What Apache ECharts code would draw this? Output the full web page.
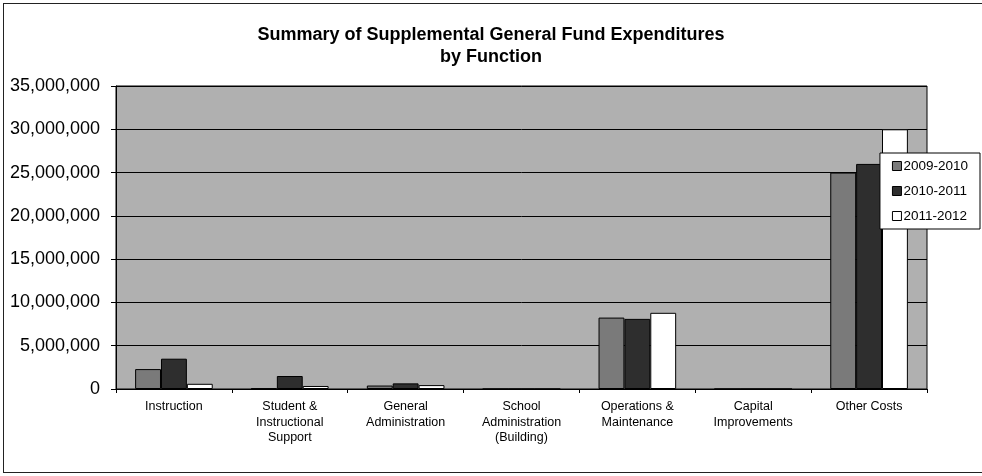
<!DOCTYPE html>
<html>
<head>
<meta charset="utf-8">
<script src="https://cdn.jsdelivr.net/npm/echarts@6/dist/echarts.min.js"></script>
<style>
  html, body { margin: 0; padding: 0; background: #fff; }
  #chart { width: 982px; height: 476px; }
  .frame { position: absolute; left: 3px; top: 3px; width: 985px; height: 470px; border: 1px solid #222; box-sizing: border-box; pointer-events: none; }
</style>
</head>
<body>
<div id="chart"></div>
<div class="frame"></div>
<script>
const categories = [
  'Instruction',
  'Student &\nInstructional\nSupport',
  'General\nAdministration',
  'School\nAdministration\n(Building)',
  'Operations &\nMaintenance',
  'Capital\nImprovements',
  'Other Costs'
]
const fy2009 = [2300000, 60000, 400000, 0, 8250000, 0, 25000000]
const fy2010 = [3500000, 1500000, 650000, 0, 8100000, 0, 26000000]
const fy2011 = [600000, 350000, 450000, 0, 8800000, 0, 30000000]
const seriesNames = ['2009-2010', '2010-2011', '2011-2012']
const seriesColors = ['#7a7a7a', '#2e2e2e', '#ffffff']

const chart = echarts.init(document.getElementById('chart'))

const fmt = (v) => v.toLocaleString('en-US')

const makeSeries = (name, data, color) => ({
  name,
  type: 'bar',
  data,
  barGap: '0%',
  barCategoryGap: '33%',
  itemStyle: { color, borderColor: '#000', borderWidth: 1 }
})

chart.setOption({
  animation: false,
  backgroundColor: '#fff',
  title: {
    text: 'Summary of Supplemental General Fund Expenditures\nby Function',
    left: 'center',
    top: 19,
    textStyle: { fontFamily: 'Liberation Sans', fontSize: 18, fontWeight: 'bold', color: '#000', lineHeight: 22 }
  },
  legend: {
    orient: 'vertical',
    right: 2,
    top: 153,
    padding: [6, 12, 6, 12],
    itemGap: 11,
    itemWidth: 9,
    itemHeight: 9,
    icon: 'rect',
    backgroundColor: '#fff',
    borderColor: '#000',
    borderWidth: 1,
    itemStyle: { borderColor: '#000', borderWidth: 1 },
    textStyle: { fontFamily: 'Liberation Sans', fontSize: 13.5, color: '#000', padding: [0, 0, 0, -3] },
    data: seriesNames
  },
  grid: {
    left: 116, right: 55, top: 86, bottom: 87,
    show: true,
    backgroundColor: '#b0b0b0',
    borderColor: '#000',
    borderWidth: 1
  },
  xAxis: {
    type: 'category',
    data: categories,
    axisLine: { lineStyle: { color: '#000' } },
    axisTick: { show: true, length: 4, lineStyle: { color: '#000' } },
    axisLabel: {
      interval: 0,
      margin: 10,
      fontFamily: 'Liberation Sans',
      fontSize: 12.5,
      lineHeight: 15.5,
      color: '#000'
    }
  },
  yAxis: {
    type: 'value',
    min: 0,
    max: 35000000,
    interval: 5000000,
    axisLine: { show: true, lineStyle: { color: '#000' } },
    axisTick: { show: true, length: 5, lineStyle: { color: '#000' } },
    splitLine: { lineStyle: { color: '#000', width: 1 } },
    axisLabel: {
      formatter: fmt,
      margin: 16,
      fontFamily: 'Liberation Sans',
      fontSize: 18,
      color: '#000'
    }
  },
  series: [
    makeSeries(seriesNames[0], fy2009, seriesColors[0]),
    makeSeries(seriesNames[1], fy2010, seriesColors[1]),
    makeSeries(seriesNames[2], fy2011, seriesColors[2])
  ]
})
</script>
</body>
</html>
